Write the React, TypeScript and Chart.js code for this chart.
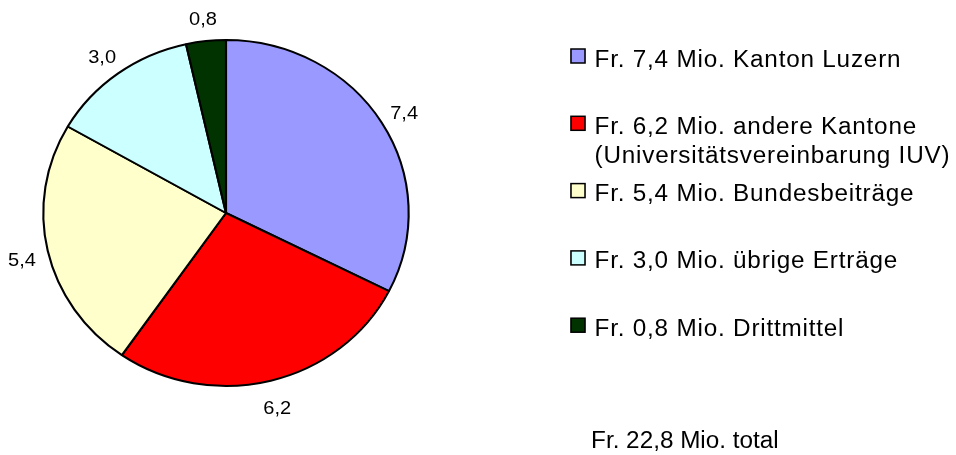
import React, { useEffect, useRef } from "react";
import { Chart, registerables } from "chart.js";

Chart.register(...registerables);

// ---- data ----
const categories: string[][] = [
  ["Kanton Luzern"],
  ["andere Kantone", "(Universitätsvereinbarung IUV)"],
  ["Bundesbeiträge"],
  ["übrige Erträge"],
  ["Drittmittel"],
];
const values: number[] = [7.4, 6.2, 5.4, 3.0, 0.8];
const colors: string[] = ["#9999FF", "#FF0000", "#FFFFCC", "#CCFFFF", "#003300"];

// ---- layout constants (screen is drawn stretched horizontally) ----
const W = 956;
const H = 455;
const SX = 1.056;
const FONT = '"Liberation Sans", Arial, sans-serif';

const fmt = (v: number) => v.toFixed(1).replace(".", ",");

const overlay = {
  id: "overlay",
  beforeDraw(chart: any) {
    const ctx = chart.ctx;
    ctx.save();
    ctx.scale(SX, 1);
  },
  afterDatasetsDraw(chart: any) {
    const ctx = chart.ctx;
    const meta = chart.getDatasetMeta(0);
    ctx.save();
    ctx.fillStyle = "#000";
    ctx.font = `19px ${FONT}`;
    ctx.textAlign = "center";
    ctx.textBaseline = "middle";
    meta.data.forEach((arc: any, i: number) => {
      const { x, y, startAngle, endAngle, outerRadius } = arc.getProps(
        ["x", "y", "startAngle", "endAngle", "outerRadius"],
        true
      );
      const mid = (startAngle + endAngle) / 2;
      const r = outerRadius + 25;
      ctx.fillText(fmt(values[i]), x + Math.cos(mid) * r, y + Math.sin(mid) * r + 4);
    });
    ctx.restore();
  },
  afterDraw(chart: any) {
    const ctx = chart.ctx;
    ctx.save();
    ctx.fillStyle = "#000";
    ctx.font = `23px ${FONT}`;
    ctx.textAlign = "left";
    ctx.textBaseline = "alphabetic";
    const boxX = 540.7;
    const boxW = 13.3;
    const textX = 563;
    const base0 = 66.5;
    const step = 67.3;
    const lineH = 29.4;
    categories.forEach((lines, i) => {
      const b = base0 + i * step;
      ctx.fillStyle = colors[i];
      ctx.fillRect(boxX, b - 17.5, boxW, 14);
      ctx.lineWidth = 1.5;
      ctx.strokeStyle = "#000";
      ctx.strokeRect(boxX, b - 17.5, boxW, 14);
      ctx.fillStyle = "#000";
      try {
        (ctx as any).letterSpacing = "0.75px";
      } catch (e) {}
      lines.forEach((ln, j) => {
        const txt = j === 0 ? `Fr. ${fmt(values[i])} Mio. ${ln}` : ln;
        ctx.fillText(txt, textX, b + j * lineH);
      });
      try {
        (ctx as any).letterSpacing = "0px";
      } catch (e) {}
    });
    const total = values.reduce((a, v) => a + v, 0);
    ctx.font = `23px ${FONT}`;
    ctx.fillText(`Fr. ${fmt(total)} Mio. total`, 559.7, 448);
    ctx.restore();
    // undo horizontal stretch
    ctx.restore();
  },
};

export default function App() {
  const ref = useRef<HTMLCanvasElement | null>(null);
  useEffect(() => {
    if (!ref.current) return;
    const chart = new Chart(ref.current, {
      type: "pie",
      data: {
        labels: categories.map((c) => c.join(" ")),
        datasets: [
          {
            data: values,
            backgroundColor: colors,
            borderColor: "#000",
            borderWidth: 2,
            clip: false,
          } as any,
        ],
      },
      options: {
        responsive: false,
        animation: false,
        devicePixelRatio: 1,
        radius: 173,
        layout: { padding: { left: 0, right: 528, top: 0, bottom: 29 } },
        plugins: {
          legend: { display: false },
          tooltip: { enabled: false },
        },
        events: [],
      } as any,
      plugins: [overlay],
    });
    return () => chart.destroy();
  }, []);
  return (
    <div style={{ position: "absolute", left: 0, top: 0, width: W, height: H, background: "#fff" }}>
      <canvas ref={ref} width={W} height={H} style={{ width: W, height: H, display: "block" }} />
    </div>
  );
}
